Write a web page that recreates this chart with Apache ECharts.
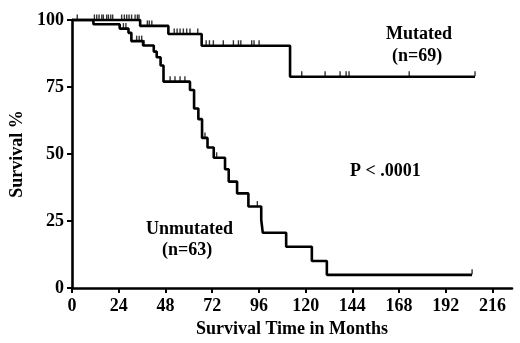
<!DOCTYPE html>
<html>
<head>
<meta charset="utf-8">
<script src="https://cdn.jsdelivr.net/npm/echarts@6/dist/echarts.min.js"></script>
<style>
  html, body { margin: 0; padding: 0; background: #fff; }
  #chart { width: 520px; height: 343px; }
</style>
</head>
<body>
<div id="chart"></div>
<script>
// Kaplan-Meier steps: [month, survival %]; last point is end of follow-up
const mutatedSteps = [[0, 100], [35, 97.8], [49.5, 94.8], [66.6, 90.4], [112, 78.8], [207, 78.8]];
const unmutatedSteps = [
  [0, 100], [11, 98.4], [24.5, 96.8], [29, 95.2], [30.5, 92.1], [36.5, 90.5],
  [42, 88.2], [43.5, 86.1], [45.5, 83], [47, 77], [60.6, 73.9], [62.7, 67],
  [64.9, 63], [66.8, 56], [69.6, 52.4], [72.8, 48.6], [78.6, 44.3], [80.5, 39.7],
  [84.8, 35.3], [90.6, 30.4], [97.2, 25.4], [98, 20.6], [110, 15.4],
  [123.2, 10.1], [130.9, 4.9], [205.5, 4.9]
];

// censored observations (months)
const mutatedCensored = [
  2.7, 11.5, 12.7, 13.9, 15.3, 16.1, 17.8, 18.7, 19.9, 20.9, 25.5, 26.9, 28.1,
  29.3, 30.6, 32.4, 33.6, 34.4, 38.7, 39.7, 41, 52.5, 54, 55.5, 57.2, 58.9,
  60.6, 64.6, 68.9, 70.6, 72.6, 77.7, 82.9, 85.5, 86.7, 92.3, 93.5, 96.1,
  118, 130, 137.7, 140.8, 142.3, 173.2, 207
];
const unmutatedCensored = [26.4, 27.7, 33.2, 34.5, 35.8, 37, 50.4, 52.9, 55.5, 58, 68.3, 74.3, 95.2, 205.5];

const xTicks = [0, 24, 48, 72, 96, 120, 144, 168, 192, 216];

const FONT = '"Liberation Serif", "Times New Roman", serif';
const SIZE = 18;

// survival value of a step curve at a given time
function levelAt(steps, t) {
  let v = steps[0][1];
  for (const [m, s] of steps) {
    if (m <= t) v = s;
  }
  return v;
}

const chart = echarts.init(document.getElementById('chart'));

const curve = (data) => ({
  type: 'line',
  step: 'end',
  data: data,
  symbol: 'none',
  clip: false,
  lineStyle: { color: '#000', width: 2.6 },
  z: 3,
});

const censor = (times, steps) => ({
  type: 'scatter',
  data: times.map((t) => [t, levelAt(steps, t)]),
  symbol: 'rect',
  symbolSize: [1.4, 5],
  symbolOffset: [0, -3],
  clip: false,
  itemStyle: { color: '#000' },
  z: 4,
});

const textStyle = { fontFamily: FONT, fontSize: SIZE, fontWeight: 'bold', color: '#000' };

chart.setOption({
  animation: false,
  grid: { left: 72, right: 8, top: 20, bottom: 55 },
  xAxis: {
    type: 'value',
    min: 0,
    max: 226,
    name: 'Survival Time in Months',
    nameLocation: 'middle',
    nameGap: 32,
    nameTextStyle: textStyle,
    axisLine: { lineStyle: { color: '#000', width: 2.6 } },
    axisTick: { customValues: xTicks, length: 5, lineStyle: { color: '#000', width: 2 } },
    axisLabel: Object.assign({ customValues: xTicks, margin: 9 }, textStyle),
    splitLine: { show: false },
  },
  yAxis: {
    type: 'value',
    min: 0,
    max: 100,
    interval: 25,
    name: 'Survival %',
    nameLocation: 'middle',
    nameGap: 42,
    nameTextStyle: textStyle,
    axisLine: { show: true, lineStyle: { color: '#000', width: 2.6 } },
    axisTick: { show: true, length: 5, lineStyle: { color: '#000', width: 2 } },
    axisLabel: Object.assign({ margin: 8 }, textStyle),
    splitLine: { show: false },
  },
  graphic: [
    { type: 'text', left: 386, top: 25, style: { text: 'Mutated', font: 'bold 18px ' + FONT, fill: '#000' } },
    { type: 'text', left: 392, top: 47, style: { text: '(n=69)', font: 'bold 18px ' + FONT, fill: '#000' } },
    { type: 'text', left: 350, top: 162, style: { text: 'P < .0001', font: 'bold 18px ' + FONT, fill: '#000' } },
    { type: 'text', left: 146, top: 220, style: { text: 'Unmutated', font: 'bold 18px ' + FONT, fill: '#000' } },
    { type: 'text', left: 162, top: 241, style: { text: '(n=63)', font: 'bold 18px ' + FONT, fill: '#000' } },
  ],
  series: [
    curve(mutatedSteps),
    curve(unmutatedSteps),
    censor(mutatedCensored, mutatedSteps),
    censor(unmutatedCensored, unmutatedSteps),
  ],
});
</script>
</body>
</html>
